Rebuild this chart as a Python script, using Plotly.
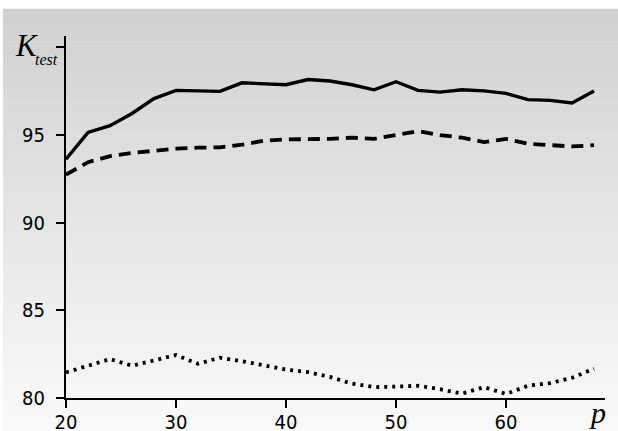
import plotly.graph_objects as go

p_values = [20, 22, 24, 26, 28, 30, 32, 34, 36, 38, 40, 42, 44, 46, 48, 50, 52, 54, 56, 58, 60, 62, 64, 66, 68]
solid_series = [93.62, 95.15, 95.53, 96.23, 97.08, 97.55, 97.52, 97.49, 97.98, 97.92, 97.87, 98.17, 98.08, 97.87, 97.58,
                98.04, 97.55, 97.45, 97.58, 97.52, 97.38, 97.02, 96.98, 96.83, 97.51]
dashed_series = [92.74, 93.45, 93.8, 93.98, 94.1, 94.22, 94.28, 94.3, 94.45, 94.68, 94.75, 94.75, 94.78, 94.85, 94.78,
                 95.0, 95.22, 95.0, 94.85, 94.6, 94.78, 94.5, 94.42, 94.35, 94.42]
dotted_series = [81.46, 81.85, 82.22, 81.84, 82.15, 82.45, 81.95, 82.3, 82.1, 81.85, 81.62, 81.48, 81.2, 80.82, 80.62,
                 80.65, 80.7, 80.5, 80.25, 80.62, 80.23, 80.7, 80.85, 81.15, 81.67]
y_ticks = [80, 85, 90, 95, 100]
y_tick_labels = ["80", "85", "90", "95", " "]
x_ticks = [20, 30, 40, 50, 60]
x_tick_labels = ["20", "30", "40", "50", "60"]

W, H = 618, 431
L, R, T, B = 66, 13, 36, 33
pw, ph = W - L - R, H - T - B

fig = go.Figure()
fig.add_trace(go.Scatter(x=p_values, y=solid_series, mode="lines",
                         line=dict(color="black", width=3.4), showlegend=False))
fig.add_trace(go.Scatter(x=p_values, y=dashed_series, mode="lines",
                         line=dict(color="black", width=3.8, dash="12px,7px"), showlegend=False))
fig.add_trace(go.Scatter(x=p_values, y=dotted_series, mode="lines",
                         line=dict(color="black", width=3.8, dash="3px,5px"), showlegend=False))

# background vertical gradient (white margin at top/left)
shapes = []
top_px, bot_px, left_px = 9, H, 3
n = 90
for i in range(n):
    y0p = top_px + (bot_px - top_px) * i / n
    y1p = top_px + (bot_px - top_px) * (i + 1) / n
    t = (i + 0.5) / n
    g = int(round(208 + (250 - 208) * t))
    shapes.append(dict(type="rect", xref="paper", yref="paper", layer="below",
                       x0=(left_px - L) / pw, x1=(W - L) / pw,
                       y0=(H - B - y1p) / ph, y1=(H - B - y0p) / ph + 0.001,
                       fillcolor=f"rgb({g},{g},{g})", line=dict(width=0)))

tick_font = dict(family="Liberation Sans Narrow, DejaVu Sans Condensed, Arial Narrow, sans-serif",
                 size=20, color="black")
serif = "Liberation Serif, Times New Roman, serif"


def py_to_paper(py):
    return (H - B - py) / ph


def px_to_paper(px):
    return (px - L) / pw


fig.update_layout(
    width=W, height=H,
    margin=dict(l=L, r=R, t=T, b=B),
    paper_bgcolor="white",
    plot_bgcolor="rgba(0,0,0,0)",
    shapes=shapes,
    xaxis=dict(range=[20, 69], showgrid=False, zeroline=False, showline=True, linecolor="black", linewidth=2,
               ticks="outside", ticklen=8, tickwidth=1.5, tickcolor="black", automargin=False,
               tickvals=x_ticks, ticktext=x_tick_labels, tickfont=tick_font, ticklabelstandoff=-3),
    yaxis=dict(range=[80, 100.65], showgrid=False, zeroline=False, showline=True, linecolor="black", linewidth=2,
               ticks="outside", ticklen=8, tickwidth=1.5, tickcolor="black", automargin=False,
               tickvals=y_ticks, ticktext=y_tick_labels, tickfont=tick_font, ticklabelstandoff=7),
    annotations=[
        dict(xref="paper", yref="paper", x=px_to_paper(13), y=py_to_paper(45), xanchor="left", yanchor="middle",
             text="<i>K</i>", showarrow=False,
             font=dict(family=serif, size=31, color="black")),
        dict(xref="paper", yref="paper", x=px_to_paper(33), y=py_to_paper(59), xanchor="left", yanchor="middle",
             text="<i>test</i>", showarrow=False,
             font=dict(family=serif, size=16, color="black")),
        dict(xref="paper", yref="paper", x=px_to_paper(608), y=py_to_paper(412), xanchor="right", yanchor="middle",
             text="<i>p</i>", showarrow=False,
             font=dict(family=serif, size=30, color="black")),
    ],
)

fig.write_html("out.html", config={"displayModeBar": False},
               post_script="document.body.style.margin='0';document.body.style.overflow='hidden';")
